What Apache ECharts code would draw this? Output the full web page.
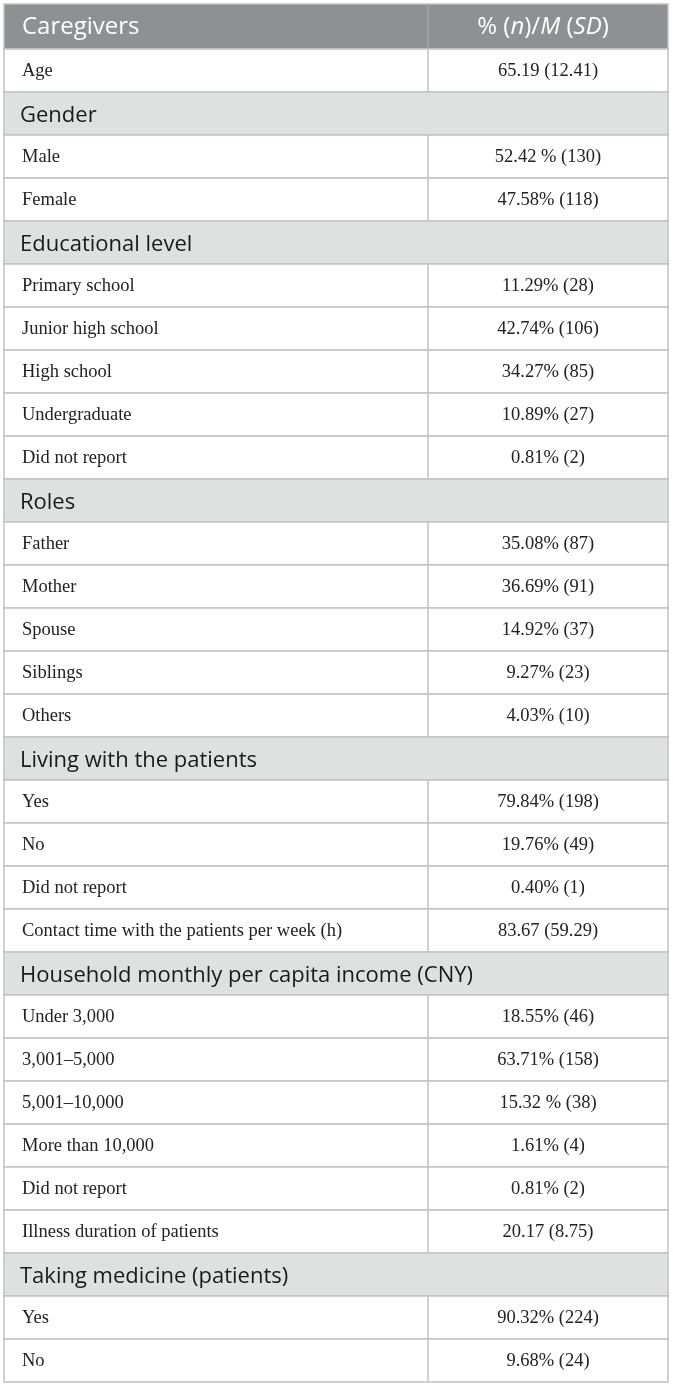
<!DOCTYPE html>
<html>
<head>
<meta charset="utf-8">
<script src="https://cdn.jsdelivr.net/npm/echarts@6/dist/echarts.min.js"></script>
<style>
  html, body { margin: 0; padding: 0; background: #fff; }
  #main { width: 673px; height: 1386px; }
</style>
</head>
<body>
<div id="main"></div>
<script>
// table content
var headLabel = 'Caregivers';
var headValue = '% ({i|n})/{i|M} ({i|SD})';

var labels = [
  'Age', 'Gender', 'Male', 'Female',
  'Educational level', 'Primary school', 'Junior high school', 'High school', 'Undergraduate', 'Did not report',
  'Roles', 'Father', 'Mother', 'Spouse', 'Siblings', 'Others',
  'Living with the patients', 'Yes', 'No', 'Did not report', 'Contact time with the patients per week (h)',
  'Household monthly per capita income (CNY)', 'Under 3,000', '3,001\u20135,000', '5,001\u201310,000', 'More than 10,000', 'Did not report', 'Illness duration of patients',
  'Taking medicine (patients)', 'Yes', 'No'
];

var values = [
  '65.19 (12.41)', '', '52.42 % (130)', '47.58% (118)',
  '', '11.29% (28)', '42.74% (106)', '34.27% (85)', '10.89% (27)', '0.81% (2)',
  '', '35.08% (87)', '36.69% (91)', '14.92% (37)', '9.27% (23)', '4.03% (10)',
  '', '79.84% (198)', '19.76% (49)', '0.40% (1)', '83.67 (59.29)',
  '', '18.55% (46)', '63.71% (158)', '15.32 % (38)', '1.61% (4)', '0.81% (2)', '20.17 (8.75)',
  '', '90.32% (224)', '9.68% (24)'
];

var sections = ['Gender', 'Educational level', 'Roles', 'Living with the patients',
  'Household monthly per capita income (CNY)', 'Taking medicine (patients)'];

window.onload = function(){
  var chart = echarts.init(document.getElementById('main'));

  var SPLIT = 63.86;          // column divider, in percent of table width
  var LINE = '#c2c2c2';
  var SANS = '"Open Sans", "Noto Sans", sans-serif';
  var SERIF = '"Liberation Serif", "DejaVu Serif", serif';

  var rowIdx = [];
  for (var i = 0; i < labels.length; i++) rowIdx.push(i);

  function cellBox(api, i){
    var a = api.coord([0, i]);
    var b = api.coord([100, i]);
    var m = api.coord([SPLIT, i]);
    var h = api.size([0, 1])[1];
    return {x0: a[0], x1: b[0], xm: m[0], y: a[1] - h / 2, cy: a[1], h: h};
  }

  function renderHead(params, api){
    var c = cellBox(api, api.value(0));
    return {type: 'group', children: [
      {type: 'rect', shape: {x: c.x0, y: c.y, width: c.x1 - c.x0, height: c.h},
        style: {fill: '#8d9194', stroke: LINE, lineWidth: 1.5}},
      {type: 'line', shape: {x1: c.xm, y1: c.y, x2: c.xm, y2: c.y + c.h},
        style: {stroke: '#a3a7a9', lineWidth: 1.5}},
      {type: 'text', x: c.x0 + 18, y: c.cy + 1,
        style: {text: headLabel, fill: '#fff', font: '24px ' + SANS, verticalAlign: 'middle'}},
      {type: 'text', x: (c.xm + c.x1) / 2 - 5, y: c.cy + 1,
        style: {text: headValue, fill: '#fff', font: '24px ' + SANS, align: 'center', verticalAlign: 'middle',
          rich: {i: {fontStyle: 'italic', fontSize: 24, fontFamily: SANS, fill: '#fff'}}}}
    ]};
  }

  function renderRow(params, api){
    var i = api.value(0);
    var c = cellBox(api, i);
    var isSec = sections.indexOf(labels[i]) >= 0;
    var kids = [
      {type: 'rect', shape: {x: c.x0, y: c.y, width: c.x1 - c.x0, height: c.h},
        style: {fill: isSec ? '#dee1e2' : '#fff', stroke: LINE, lineWidth: 1.5}}
    ];
    if (isSec) {
      kids.push({type: 'text', x: c.x0 + 16, y: c.cy + 2,
        style: {text: labels[i], fill: '#1a1a1a', font: '22px ' + SANS, verticalAlign: 'middle'}});
    } else {
      kids.push({type: 'line', shape: {x1: c.xm, y1: c.y, x2: c.xm, y2: c.y + c.h},
        style: {stroke: LINE, lineWidth: 1.5}});
      kids.push({type: 'text', x: c.x0 + 18, y: c.cy + 1,
        style: {text: labels[i], fill: '#222', font: '18.5px ' + SERIF, verticalAlign: 'middle'}});
      kids.push({type: 'text', x: (c.xm + c.x1) / 2, y: c.cy + 1,
        style: {text: values[i], fill: '#222', font: '18.5px ' + SERIF, align: 'center', verticalAlign: 'middle'}});
    }
    return {type: 'group', children: kids};
  }

  var opt = {
    animation: false,
    grid: [
      {left: 4, right: 5, top: 4, height: 45},
      {left: 4, right: 5, top: 49, bottom: 4}
    ],
    xAxis: [
      {gridIndex: 0, type: 'value', min: 0, max: 100, show: false},
      {gridIndex: 1, type: 'value', min: 0, max: 100, show: false}
    ],
    yAxis: [
      {gridIndex: 0, type: 'category', data: [0], inverse: true, show: false},
      {gridIndex: 1, type: 'category', data: rowIdx, inverse: true, show: false}
    ],
    series: [
      {type: 'custom', xAxisIndex: 0, yAxisIndex: 0, data: [[0]], renderItem: renderHead, silent: true},
      {type: 'custom', xAxisIndex: 1, yAxisIndex: 1, data: rowIdx.map(function(r){ return [r]; }),
        encode: {y: 0}, renderItem: renderRow, silent: true}
    ]
  };

  chart.setOption(opt);
};
</script>
</body>
</html>
